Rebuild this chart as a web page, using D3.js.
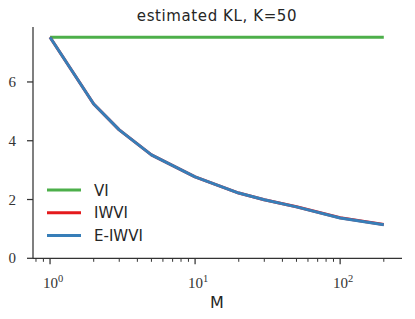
<!DOCTYPE html>
<html>
<head>
<meta charset="utf-8">
<script src="https://cdn.jsdelivr.net/npm/d3@7"></script>
<style>
  body { margin: 0; background: #fff; }
  .tick-lbl { font-family: "Liberation Serif", "DejaVu Serif", serif; fill: #333; }
</style>
</head>
<body>
<script>
(()=>{
    const width = 415;
    const height = 319;

    // M values (log x) and estimated KL per method
    const mValues = [1, 2, 3, 5, 10, 20, 30, 50, 100, 200];
    const viKL    = [7.52, 7.52, 7.52, 7.52, 7.52, 7.52, 7.52, 7.52, 7.52, 7.52];
    const iwviKL  = [7.52, 5.25, 4.37, 3.52, 2.77, 2.22, 1.99, 1.755, 1.38, 1.15];
    const eiwviKL = [7.52, 5.25, 4.37, 3.52, 2.77, 2.22, 1.99, 1.75, 1.37, 1.14];
    const seriesNames = ["VI", "IWVI", "E-IWVI"];
    const colors = ["#4daf4a", "#e41a1c", "#377eb8"];
    const yTicks = [0, 2, 4, 6];
    const xMajor = [1, 10, 100];
    const xMinor = [0.8, 0.9, 2, 3, 4, 5, 6, 7, 8, 9, 20, 30, 40, 50, 60, 70, 80, 90, 200];

    const x = d3.scaleLog().domain([0.763, 267]).range([33, 402]);
    const y = d3.scaleLinear().domain([0, 7.87]).range([258.3, 27]);

    const svg = d3.create("svg")
        .attr("width", width)
        .attr("height", height)
        .attr("viewBox", [0, 0, width, height]);

    const axisColor = "#333";

    // axes lines
    svg.append("line")
        .attr("x1", 33).attr("x2", 33)
        .attr("y1", y.range()[1]).attr("y2", y(0))
        .attr("stroke", axisColor).attr("stroke-width", 1.25);
    svg.append("line")
        .attr("x1", 33).attr("x2", 402)
        .attr("y1", y(0)).attr("y2", y(0))
        .attr("stroke", axisColor).attr("stroke-width", 1.25);

    // y ticks
    svg.append("g").selectAll("line").data(yTicks).join("line")
        .attr("x1", 27).attr("x2", 33)
        .attr("y1", d => y(d)).attr("y2", d => y(d))
        .attr("stroke", axisColor).attr("stroke-width", 1.25);
    svg.append("g").selectAll("text").data(yTicks).join("text")
        .attr("class", "tick-lbl")
        .attr("x", 16).attr("y", d => y(d) + 5)
        .attr("text-anchor", "end")
        .attr("font-size", 15)
        .text(d => d);

    // x ticks
    svg.append("g").selectAll("line").data(xMajor).join("line")
        .attr("x1", d => x(d)).attr("x2", d => x(d))
        .attr("y1", y(0)).attr("y2", y(0) + 6)
        .attr("stroke", axisColor).attr("stroke-width", 1.25);
    svg.append("g").selectAll("line").data(xMinor).join("line")
        .attr("x1", d => x(d)).attr("x2", d => x(d))
        .attr("y1", y(0)).attr("y2", y(0) + 3.5)
        .attr("stroke", axisColor).attr("stroke-width", 1);
    const xl = svg.append("g").selectAll("text").data(xMajor).join("text")
        .attr("class", "tick-lbl")
        .attr("x", d => x(d) + 3).attr("y", 288)
        .attr("text-anchor", "middle")
        .attr("font-size", 15);
    xl.append("tspan").text("10");
    xl.append("tspan").attr("dy", -6).attr("font-size", 10.5).text(d => Math.round(Math.log10(d)));

    // title and axis label
    svg.append("text")
        .attr("x", 217).attr("y", 21)
        .attr("text-anchor", "middle")
        .attr("font-family", "DejaVu Sans, sans-serif")
        .attr("font-size", 15)
        .attr("letter-spacing", 0.6)
        .attr("fill", "#262626")
        .text("estimated KL, K=50");
    svg.append("text")
        .attr("x", 217).attr("y", 308)
        .attr("text-anchor", "middle")
        .attr("font-family", "DejaVu Sans, sans-serif")
        .attr("font-size", 16)
        .attr("fill", "#262626")
        .text("M");

    // lines
    const allSeries = [viKL, iwviKL, eiwviKL];
    const line = d3.line()
        .x((d, i) => x(mValues[i]))
        .y(d => y(d));
    svg.append("g").selectAll("path").data(allSeries).join("path")
        .attr("d", line)
        .attr("fill", "none")
        .attr("stroke", (d, i) => colors[i])
        .attr("stroke-width", 3)
        .attr("stroke-linejoin", "round");

    // legend
    const legend = svg.append("g").selectAll("g").data(seriesNames).join("g")
        .attr("transform", (d, i) => `translate(47,${190 + i * 22.8})`);
    legend.append("line")
        .attr("x1", 0).attr("x2", 34)
        .attr("stroke", (d, i) => colors[i])
        .attr("stroke-width", 3);
    legend.append("text")
        .attr("x", 47).attr("y", 5.5)
        .attr("font-family", "DejaVu Sans, sans-serif")
        .attr("font-size", 15)
        .attr("fill", "#262626")
        .text(d => d);

    d3.select("body").append(() => svg.node());
})()
</script>
</body>
</html>
